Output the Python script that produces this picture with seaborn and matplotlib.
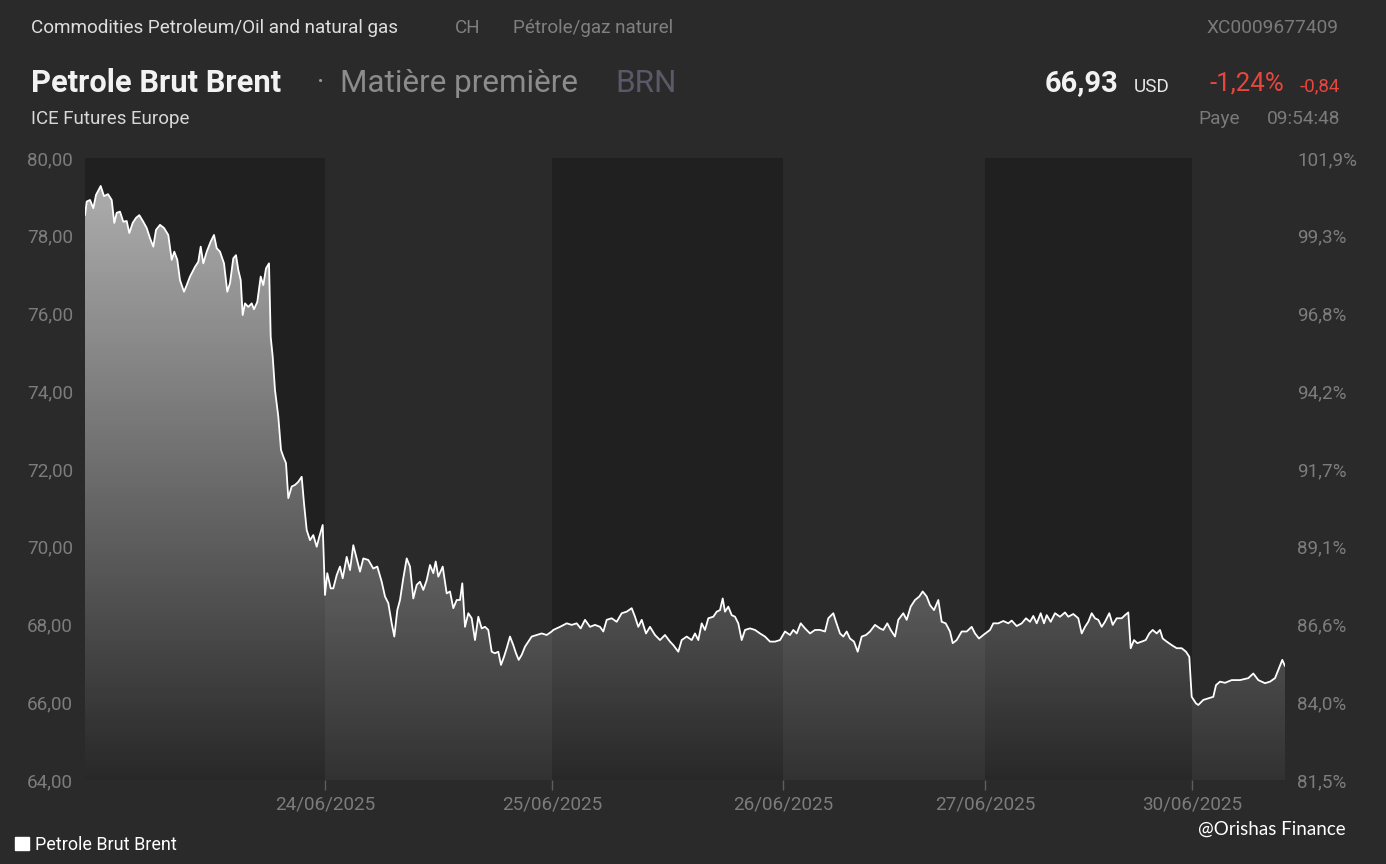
import numpy as np
import matplotlib
matplotlib.use("Agg")
import matplotlib.pyplot as plt
from matplotlib.patches import Patch
import seaborn as sns

# ---------------- data ----------------
# trading-time position (hours on the session timeline) and Brent price (USD)
hours = [
    0.00, 0.17, 0.50, 0.83, 1.10, 1.57, 1.90, 2.30, 2.67, 2.93, 3.17, 3.50, 3.83, 4.17, 4.43, 4.77,
    5.10, 5.43, 5.83, 6.17, 6.50, 6.83, 7.10, 7.50, 7.90, 8.33, 8.67, 8.93, 9.23, 9.50, 9.90, 10.17,
    10.50, 11.00, 11.33, 11.57, 11.83, 12.17, 12.57, 12.90, 13.17, 13.50, 13.90, 14.23, 14.50, 14.83,
    15.10, 15.33, 15.57, 15.77, 16.00, 16.33, 16.67, 16.90, 17.23, 17.57, 17.83, 18.10, 18.40, 18.57,
    18.77, 19.00, 19.33, 19.60, 19.83, 20.10, 20.33, 20.67, 21.00, 21.33, 21.67, 21.90, 22.17, 22.50,
    22.83, 23.17, 23.43, 23.77, 24.00, 24.23, 24.57, 24.83, 25.17, 25.50, 25.77, 26.17, 26.50, 26.83,
    27.17, 27.50, 27.83, 28.33, 28.83, 29.23, 29.67, 30.00, 30.33, 30.67, 30.93, 31.23, 31.50, 31.83,
    32.17, 32.50, 32.83, 33.17, 33.50, 33.83, 34.17, 34.50, 34.83, 35.07, 35.33, 35.77, 36.17, 36.50,
    36.83, 37.17, 37.50, 37.73, 38.00, 38.33, 38.67, 39.00, 39.33, 39.67, 40.00, 40.33, 40.67, 41.00,
    41.33, 41.60, 41.90, 42.17, 42.50, 42.83, 43.10, 43.37, 43.67, 44.00, 44.33, 44.67, 45.17, 45.67,
    46.17, 46.67, 46.83, 47.50, 48.17, 48.67, 49.17, 49.57, 50.00, 50.50, 51.00, 51.50, 51.83, 52.17,
    52.67, 53.17, 53.67, 54.17, 54.67, 55.00, 55.33, 55.67, 56.10, 56.50, 57.00, 57.50, 58.00, 58.50,
    58.83, 59.33, 59.67, 60.17, 60.67, 61.00, 61.33, 61.67, 62.00, 62.33, 62.83, 63.17, 63.50, 63.77,
    64.00, 64.33, 64.67, 65.00, 65.33, 65.67, 66.00, 66.50, 67.00, 67.50, 68.00, 68.50, 69.00, 69.50,
    70.00, 70.50, 70.83, 71.17, 71.57, 72.00, 72.50, 73.00, 73.50, 74.00, 74.33, 74.83, 75.10, 75.50,
    75.83, 76.17, 76.50, 76.90, 77.27, 77.67, 78.10, 78.50, 79.00, 79.50, 79.83, 80.23, 80.57, 81.00,
    81.33, 81.83, 82.17, 82.57, 83.00, 83.43, 83.77, 84.17, 84.50, 84.90, 85.33, 85.67, 86.07, 86.50,
    86.77, 87.17, 87.67, 88.17, 88.67, 89.00, 89.40, 89.83, 90.50, 90.83, 91.33, 91.83, 92.33, 92.67,
    93.17, 93.67, 94.10, 94.50, 94.83, 95.17, 95.57, 95.90, 96.17, 96.57, 97.00, 97.50, 98.00, 98.33,
    98.83, 99.33, 99.67, 100.00, 100.33, 100.67, 101.00, 101.33, 101.67, 102.00, 102.43, 102.77,
    103.17, 103.67, 104.00, 104.33, 104.57, 104.90, 105.23, 105.67, 106.07, 106.43, 106.77, 107.17,
    107.50, 107.77, 108.17, 108.67, 109.17, 109.67, 110.10, 110.43, 110.67, 111.10, 111.33, 111.83,
    112.33, 112.83, 113.10, 113.50, 114.00, 114.67, 115.50, 116.33, 116.83, 117.33, 118.00, 118.50,
    119.00, 119.33, 119.73, 120.00,
]
price = [
    78.53, 78.88, 78.92, 78.71, 79.05, 79.28, 79.02, 79.07, 78.92, 78.33, 78.59, 78.62, 78.36, 78.38, 78.07, 78.33,
    78.46, 78.53, 78.36, 78.20, 77.94, 77.72, 78.15, 78.28, 78.20, 78.02, 77.38, 77.59, 77.38, 76.86, 76.56, 76.73,
    76.95, 77.20, 77.33, 77.72, 77.29, 77.59, 77.85, 78.02, 77.68, 77.59, 77.29, 76.56, 76.78, 77.42,
    77.50, 77.12, 76.86, 75.96, 76.26, 76.17, 76.26, 76.11, 76.30, 76.95, 76.73, 77.16, 77.29, 75.40,
    74.89, 74.03, 73.35, 72.49, 72.32, 72.15, 71.25, 71.55, 71.59, 71.67, 71.80, 71.12, 70.43, 70.17,
    70.30, 70.00, 70.26, 70.56, 68.76, 69.32, 68.93, 68.93, 69.27, 69.49, 69.19, 69.74, 69.40, 70.04,
    69.70, 69.36, 69.70, 69.66, 69.44, 69.49, 69.10, 68.72, 68.55, 68.03, 67.69, 68.37, 68.63, 69.19,
    69.70, 69.49, 68.67, 69.02, 69.10, 68.89, 69.14, 69.53, 69.32, 69.62, 69.23, 69.49, 68.80, 68.85,
    68.42, 68.63, 68.63, 69.06, 67.94, 68.29, 68.16, 67.60, 68.20, 67.90, 67.94, 67.86, 67.30, 67.26,
    67.30, 66.96, 67.17, 67.39, 67.69, 67.47, 67.26, 67.09, 67.22, 67.43, 67.56, 67.69, 67.73, 67.77,
    67.73, 67.82, 67.86, 67.94, 68.03, 67.99, 68.03, 67.90, 68.12, 67.94, 67.99, 67.94, 67.82, 68.12,
    68.16, 68.07, 68.29, 68.33, 68.42, 68.20, 67.94, 68.12, 67.77, 67.94, 67.73, 67.60, 67.73, 67.56,
    67.47, 67.30, 67.60, 67.69, 67.60, 67.77, 67.60, 68.03, 67.86, 68.16, 68.20, 68.33, 68.37, 68.67,
    68.33, 68.46, 68.24, 68.20, 68.03, 67.60, 67.86, 67.90, 67.86, 67.77, 67.69, 67.56, 67.56, 67.60,
    67.82, 67.73, 67.86, 67.77, 68.03, 67.90, 67.77, 67.86, 67.86, 67.82, 68.16, 68.29, 68.07, 67.77,
    67.69, 67.82, 67.64, 67.56, 67.30, 67.69, 67.73, 67.82, 67.99, 67.90, 67.86, 68.03, 67.86, 67.69,
    68.12, 68.29, 68.12, 68.46, 68.63, 68.72, 68.85, 68.72, 68.50, 68.37, 68.63, 68.07, 68.03, 67.82,
    67.52, 67.60, 67.82, 67.82, 67.94, 67.77, 67.64, 67.73, 67.86, 68.03, 68.03, 68.09, 68.03, 68.10,
    67.96, 68.03, 68.16, 68.07, 68.22, 68.03, 68.29, 68.03, 68.24, 68.07, 68.29, 68.20, 68.31, 68.20,
    68.27, 68.16, 67.77, 67.94, 68.07, 68.29, 68.16, 68.12, 67.94, 68.07, 68.29, 67.99,
    68.16, 68.16, 68.24, 68.31, 67.39, 67.60, 67.52, 67.56, 67.60, 67.77, 67.86, 67.77,
    67.86, 67.64, 67.56, 67.47, 67.39, 67.39, 67.30, 67.17, 66.14, 65.97, 65.93, 66.06,
    66.10, 66.14, 66.44, 66.53, 66.50, 66.57, 66.57, 66.62, 66.74, 66.57, 66.49, 66.53,
    66.62, 66.83, 67.09, 66.93,
]
day_starts = [24.0, 46.7, 69.8, 90.0, 110.7]
day_labels = ["24/06/2025", "25/06/2025", "26/06/2025", "27/06/2025", "30/06/2025"]
session_end = 120.0
y_ticks = [64, 66, 68, 70, 72, 74, 76, 78, 80]
base_price = price[0]

BG = "#2a2a2a"
DARK_BAND = "#202020"
TICK_COL = "#7c7c7c"

sns.set_theme(style="dark", rc={
    "figure.facecolor": BG, "axes.facecolor": BG, "savefig.facecolor": BG,
    "axes.edgecolor": BG, "text.color": "white",
})
plt.rcParams["font.family"] = ["Roboto", "DejaVu Sans"]

fig = plt.figure(figsize=(13.86, 8.64), dpi=100)
ax = fig.add_axes([85 / 1386, 1 - 780 / 864, 1200 / 1386, 622 / 864])

# alternating day bands
bounds = [0.0] + day_starts + [session_end]
for i in range(len(bounds) - 1):
    if i % 2 == 0:
        ax.axvspan(bounds[i], bounds[i + 1], color=DARK_BAND, lw=0, zorder=0)

# gradient area under the curve
poly = ax.fill_between(hours, price, 64, facecolor="none", edgecolor="none", zorder=1)
alpha = np.linspace(0.66, 0.04, 256)
grad = np.ones((256, 1, 4))
grad[:, 0, 3] = alpha
img = ax.imshow(grad, extent=[0, session_end, 64, 80], aspect="auto", origin="upper", zorder=1,
                interpolation="bicubic")
img.set_clip_path(poly.get_paths()[0], transform=ax.transData)

sns.lineplot(x=hours, y=price, ax=ax, color="white", lw=1.3, zorder=3, legend=False)

TICK_FS = 13.6
ax.set_xlim(0, session_end)
ax.set_ylim(64, 80)
ax.set_yticks(y_ticks)
ax.set_yticklabels([f"{v:.2f}".replace(".", ",") for v in y_ticks])
ax.set_xticks(day_starts)
ax.set_xticklabels(day_labels)
ax.tick_params(axis="y", length=0, pad=8.6, labelsize=TICK_FS, labelcolor=TICK_COL)
ax.tick_params(axis="x", length=7, width=1, color="#5e5e5e", pad=4, labelsize=TICK_FS,
               labelcolor=TICK_COL, direction="out", bottom=True)
for s in ax.spines.values():
    s.set_visible(False)
ax.grid(False)
ax.set_xlabel("")
ax.set_ylabel("")

ax2 = ax.twinx()
ax2.set_ylim(64, 80)
ax2.set_yticks(y_ticks)
ax2.set_yticklabels([f"{v / base_price * 100:.1f}%".replace(".", ",") for v in y_ticks])
ax2.tick_params(axis="y", length=0, pad=8.6, labelsize=TICK_FS, labelcolor=TICK_COL)
for s in ax2.spines.values():
    s.set_visible(False)
ax2.grid(False)

def ftext(xpx, ypx, s, **kw):
    fig.text(xpx / 1386, 1 - ypx / 864, s, va="center", **kw)

# header
ftext(31, 28, "Commodities Petroleum/Oil and natural gas", fontsize=13.6, color="#dedede")
ftext(455, 28, "CH", fontsize=13.6, color="#808080")
ftext(513, 28, "Pétrole/gaz naturel", fontsize=13.6, color="#808080")
ftext(1338, 28, "XC0009677409", fontsize=13.8, color="#7a7a7a", ha="right")

ftext(31, 83, "Petrole Brut Brent", fontsize=22.2, fontweight="bold", color="#f2f2f2")
ftext(317, 83, "·", fontsize=20, color="#9a9a9a")
ftext(340, 83, "Matière première", fontsize=22.6, color="#8c8c8c")
ftext(615, 83, "BRN", fontsize=22.6, color="#5a5968")

ftext(1118, 83, "66,93", fontsize=21, fontweight="bold", color="#f2f2f2", ha="right")
ftext(1134, 87, "USD", fontsize=13.6, color="#e8e8e8")
ftext(1284, 83, "-1,24%", fontsize=18.6, color="#e8463c", ha="right")
ftext(1340, 86, "-0,84", fontsize=13.5, color="#e8463c", ha="right")

ftext(31, 119, "ICE Futures Europe", fontsize=13.5, color="#d8d8d8")
ftext(1198, 119, "Paye", fontsize=13.7, color="#7a7a7a")
ftext(1340, 119, "09:54:48", fontsize=13.8, color="#7a7a7a", ha="right")

# legend
fig.legend(handles=[Patch(facecolor="white", edgecolor="white")], labels=["Petrole Brut Brent"],
           loc="center left", bbox_to_anchor=(-1 / 1386, 1 - 845 / 864), frameon=False,
           handlelength=0.75, handleheight=0.75, handletextpad=0.35, fontsize=13, labelcolor="white")

fig.text(1346 / 1386, 1 - 829 / 864, "@Orishas Finance", ha="right", va="center", fontsize=13.5,
         color="white", family=["Lato", "DejaVu Sans"])

fig.savefig("out.png", dpi=100, facecolor=BG)
